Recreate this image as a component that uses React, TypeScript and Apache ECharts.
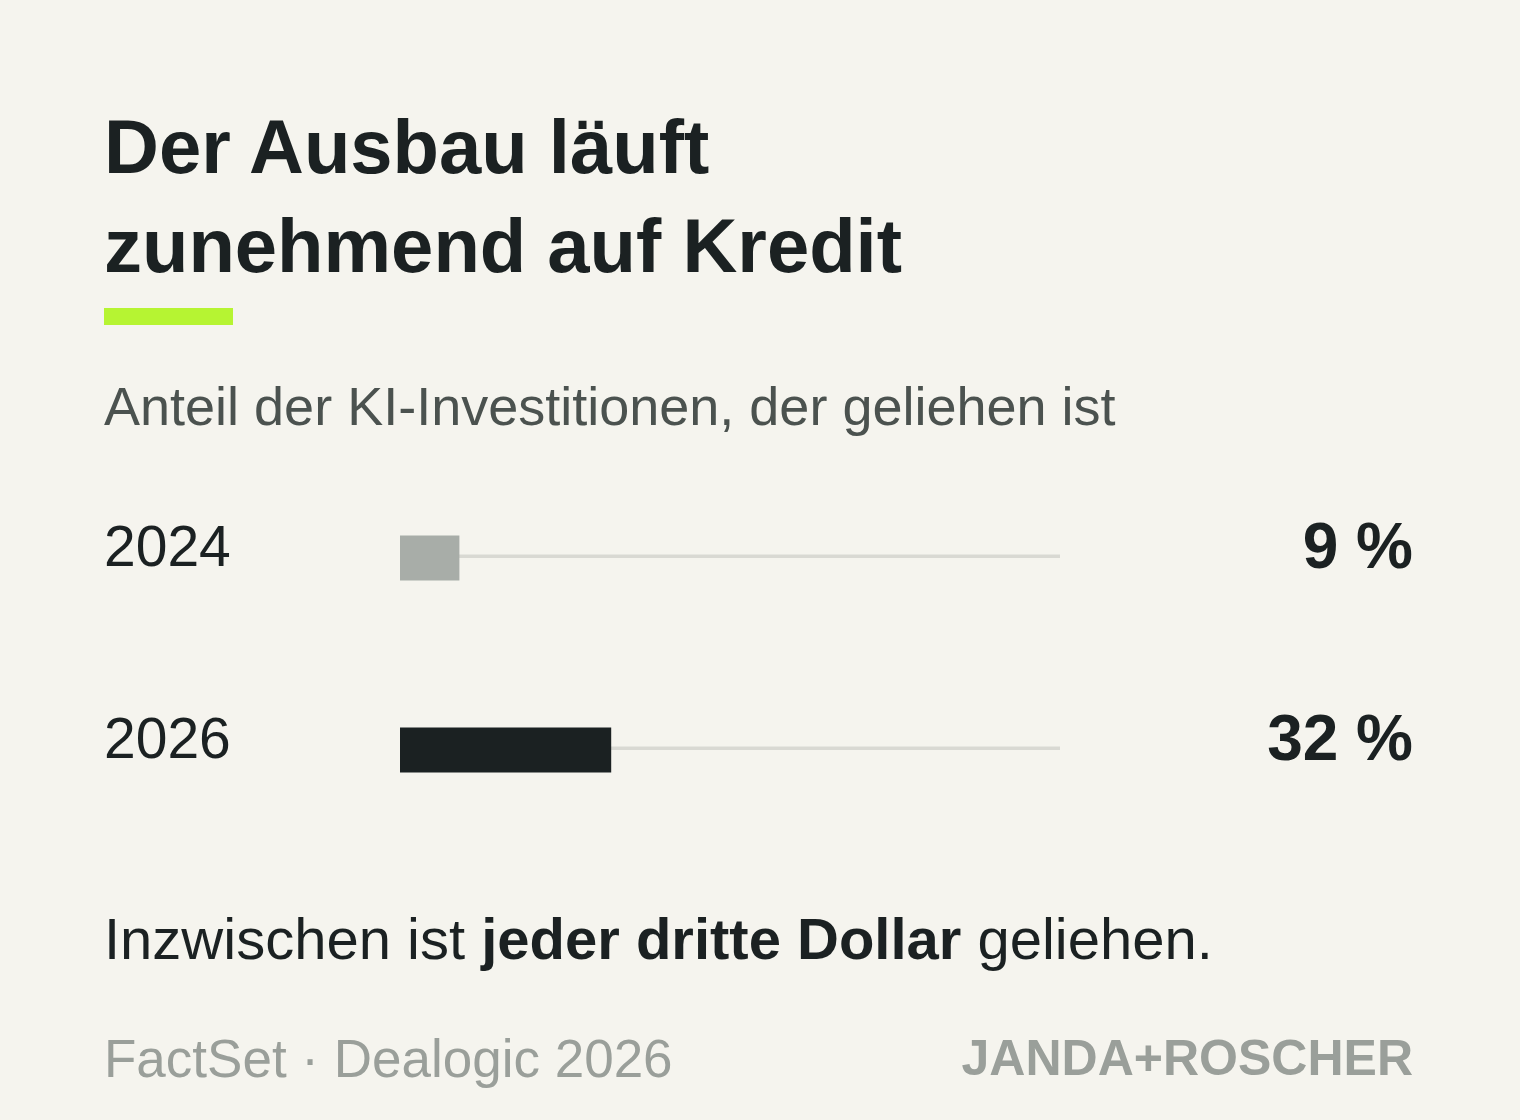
import React, { useEffect, useRef } from "react";
import * as echarts from "echarts";

const years = ["2024", "2026"];
const shares = [9, 32];
const valueLabels = ["9 %", "32 %"];
const barColors = ["#a8ada8", "#1b2122"];
const scaleMax = 100;

const titleLines = ["Der Ausbau läuft", "zunehmend auf Kredit"];
const subtitle = "Anteil der KI-Investitionen, der geliehen ist";
const noteParts = ["Inzwischen ist ", "jeder dritte Dollar", " geliehen."];
const source = "FactSet · Dealogic 2026";
const brand = "JANDA+ROSCHER";

const FONT = "'Liberation Sans', Arial, sans-serif";
const INK = "#1b2122";

export default function App() {
  const ref = useRef<HTMLDivElement>(null);
  useEffect(() => {
    const chart = echarts.init(ref.current!, null, { renderer: "svg" });
    chart.setOption({
      animation: false,
      backgroundColor: "#f5f4ee",
      textStyle: { fontFamily: FONT },
      grid: { left: 400, right: 460, top: 462, height: 384 },
      xAxis: { type: "value", min: 0, max: scaleMax, show: false },
      yAxis: [
        {
          type: "category",
          data: years,
          inverse: true,
          axisLine: { show: false },
          axisTick: { show: false },
          splitLine: { show: false },
          axisLabel: {
            align: "left",
            margin: 296,
            fontSize: 57,
            color: INK,
            fontFamily: FONT,
            verticalAlign: "bottom",
            lineHeight: 24,
          },
        },
        {
          type: "category",
          data: valueLabels,
          inverse: true,
          position: "right",
          axisLine: { show: false },
          axisTick: { show: false },
          splitLine: { show: false },
          axisLabel: {
            align: "right",
            margin: 353,
            fontSize: 64,
            fontWeight: "bold",
            color: INK,
            fontFamily: FONT,
            verticalAlign: "bottom",
            lineHeight: 24,
          },
        },
      ],
      series: [
        {
          type: "custom",
          z: 1,
          data: years.map((y) => [scaleMax, y]),
          encode: { x: 0, y: 1 },
          renderItem: (params: any, api: any) => {
            const start = api.coord([0, api.value(1)]);
            const end = api.coord([api.value(0), api.value(1)]);
            return {
              type: "rect",
              shape: { x: start[0], y: start[1] - 3.5, width: end[0] - start[0], height: 3.6 },
              style: { fill: "#d9d9d3" },
            };
          },
          silent: true,
        },
        {
          type: "bar",
          z: 3,
          barWidth: 45,
          data: shares.map((v, i) => ({ value: v, itemStyle: { color: barColors[i] } })),
          silent: true,
        },
      ],
      graphic: [
        {
          type: "text",
          x: 104,
          y: 146,
          style: { text: titleLines[0], font: `bold 76px ${FONT}`, fill: INK, verticalAlign: "middle" },
        },
        {
          type: "text",
          x: 104,
          y: 245,
          style: { text: titleLines[1], font: `bold 76px ${FONT}`, fill: INK, verticalAlign: "middle" },
        },
        {
          type: "rect",
          shape: { x: 104, y: 308, width: 129, height: 17 },
          style: { fill: "#b6f432" },
        },
        {
          type: "text",
          x: 104,
          y: 406,
          style: { text: subtitle, font: `54px ${FONT}`, fill: "#4b524f", verticalAlign: "middle" },
        },
        {
          type: "text",
          x: 104,
          y: 938,
          style: {
            text: `{n|${noteParts[0]}}{b|${noteParts[1]}}{n|${noteParts[2]}}`,
            verticalAlign: "middle",
            fill: INK,
            rich: {
              n: { fontSize: 58, fontFamily: FONT, fill: INK, color: INK },
              b: { fontSize: 58, fontFamily: FONT, fontWeight: "bold", fill: INK, color: INK },
            },
          },
        },
        {
          type: "text",
          x: 104,
          y: 1058,
          style: { text: source, font: `53px ${FONT}`, fill: "#9a9f9a", verticalAlign: "middle" },
        },
        {
          type: "text",
          x: 1413,
          y: 1058,
          style: { text: brand, font: `bold 50px ${FONT}`, fill: "#9a9f9a", verticalAlign: "middle", align: "right" },
        },
      ],
    });
    return () => chart.dispose();
  }, []);
  return <div ref={ref} style={{ position: "fixed", left: 0, top: 0, width: 1520, height: 1120 }} />;
}
